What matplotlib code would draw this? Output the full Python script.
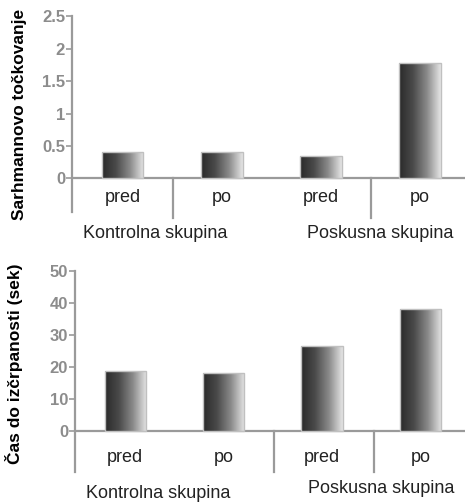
import numpy as np
import matplotlib.pyplot as plt
from matplotlib.colors import LinearSegmentedColormap

plt.rcParams['font.family'] = ['Liberation Sans', 'DejaVu Sans']

# data
phases = ["pred", "po", "pred", "po"]
groups = ["Kontrolna skupina", "Poskusna skupina"]
score = [0.40, 0.40, 0.35, 1.78]
exhaustion = [18.7, 18.1, 26.5, 38.2]
score_ticks = [0, 0.5, 1, 1.5, 2, 2.5]
score_ticklabels = ["0", "0.5", "1", "1.5", "2", "2.5"]
time_ticks = [0, 10, 20, 30, 40, 50]

grey = "#9a9a9a"
cmap = LinearSegmentedColormap.from_list("bar", ["#2a2a2a", "#4a4a4a", "#8a8a8a", "#e6e6e6"])
grad = np.linspace(0, 1, 256).reshape(1, -1)


def panel(ax, values, ticks, ticklabels, ylim, seps, sep_bottom, ylabel, lab_x,
          phase_y, group_pos):
    x = np.arange(len(values))
    bars = ax.bar(x, values, width=0.42, facecolor="none", edgecolor="#c0c0c0",
                  linewidth=1.0, zorder=3)
    for b in bars:
        x0, y0 = b.get_x(), b.get_y()
        im = ax.imshow(grad, cmap=cmap, aspect="auto", zorder=2,
                       extent=(x0, x0 + b.get_width(), y0, y0 + b.get_height()))
        im.set_clip_path(b)
    ax.set_xlim(-0.51, 3.45)
    ax.set_ylim(*ylim)
    ax.axhline(0, color=grey, lw=1.6, zorder=1)
    for s in seps:
        ax.plot([s, s], [0, sep_bottom], color=grey, lw=1.6, clip_on=False)
    for sp in ["top", "right", "bottom"]:
        ax.spines[sp].set_visible(False)
    ax.spines["left"].set_color(grey)
    ax.spines["left"].set_linewidth(1.6)
    ax.set_xticks([])
    ax.set_yticks(ticks)
    ax.set_yticklabels(ticklabels, color="#8c8c8c", fontsize=12, fontweight="bold")
    ax.tick_params(axis="y", length=4, width=1.2, color=grey, pad=1)
    ax.set_ylabel(ylabel, fontsize=12.5, fontweight="bold")
    ax.yaxis.set_label_coords(*lab_x)
    for xi, p in zip(x, phases):
        ax.text(xi, phase_y, p, ha="center", va="center", fontsize=13, color="#222222")
    for (gx, gy), g in zip(group_pos, groups):
        ax.text(gx, gy, g, ha="center", va="center", fontsize=13, color="#222222",
                clip_on=False)


fig = plt.figure(figsize=(4.72, 5.04), dpi=100)
ax1 = fig.add_axes([0.1525, 0.579, 0.8325, 0.389])
ax2 = fig.add_axes([0.159, 0.0635, 0.826, 0.399])

panel(ax1, score, score_ticks, score_ticklabels, (-0.52, 2.5), [0.51, 2.5], -0.61,
      "Sarhmannovo točkovanje", (-0.115, 0.5), -0.29,
      [(0.33, -0.85), (2.6, -0.85)])
panel(ax2, exhaustion, time_ticks, [str(t) for t in time_ticks], (-12.8, 50), [1.51, 2.53],
      -12.8, "Čas do izčrpanosti (sek)", (-0.133, 0.54), -8.4,
      [(0.33, -19.4), (2.6, -17.8)])

fig.savefig("out.png", dpi=100)
